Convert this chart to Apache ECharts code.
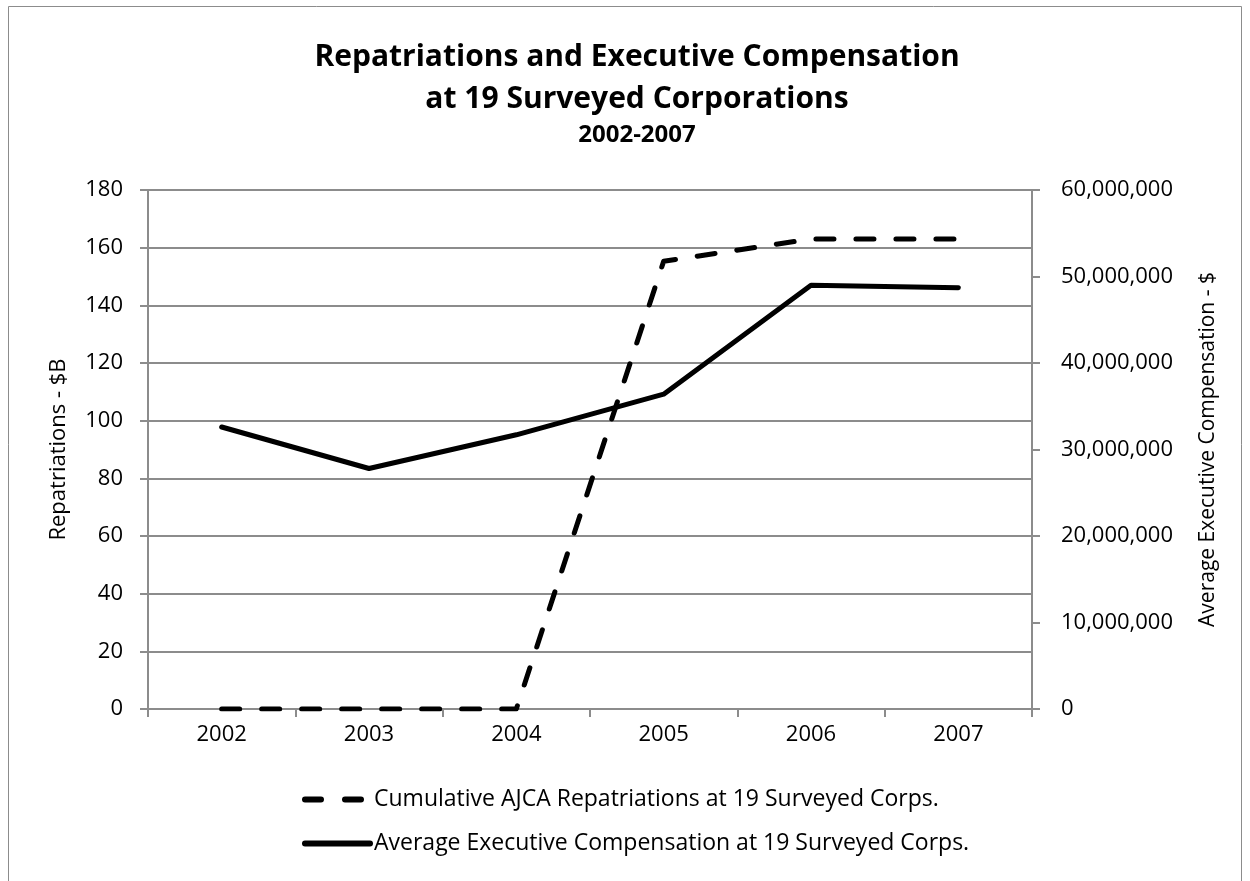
<!DOCTYPE html>
<html>
<head>
<meta charset="utf-8">
<script src="https://cdn.jsdelivr.net/npm/echarts@6/dist/echarts.min.js"></script>
<style>
  html, body { margin: 0; padding: 0; background: #fff; }
  #chart { width: 1250px; height: 881px; }
</style>
</head>
<body>
<div id="chart"></div>
<script>
// 数据
const years = ['2002', '2003', '2004', '2005', '2006', '2007'];
const repatriations = [0, 0, 0, 155.3, 163, 163];
const compensation = [32600000, 27800000, 31700000, 36400000, 49000000, 48700000];
const seriesNames = [
  'Cumulative AJCA Repatriations at 19 Surveyed Corps.',
  'Average Executive Compensation at 19 Surveyed Corps.'
];

const font = '"Open Sans", sans-serif';
const gridColor = '#8c8c8c';

// 图例图标（虚线 / 实线）
const dashIcon = 'path://M3,0h16a3,3 0 0 1 0,6h-16a3,3 0 0 1 0,-6z' +
  'M43,0h16a3,3 0 0 1 0,6h-16a3,3 0 0 1 0,-6zM71,3L71,3';
const solidIcon = 'path://M3,0h65a3,3 0 0 1 0,6h-65a3,3 0 0 1 0,-6z';

const chart = echarts.init(document.getElementById('chart'));

const option = {
  backgroundColor: '#fff',
  animation: false,
  textStyle: { fontFamily: font },
  graphic: [{
    type: 'rect',
    shape: { x: 8.5, y: 6.5, width: 1233, height: 900 },
    style: { fill: 'none', stroke: '#8c8c8c', lineWidth: 1 },
    silent: true
  }],
  title: [{
    text: 'Repatriations and Executive Compensation\nat 19 Surveyed Corporations',
    left: 632,
    textAlign: 'center',
    top: 31,
    textStyle: { fontFamily: font, fontSize: 30, fontWeight: 'bold', color: '#000', lineHeight: 42 }
  }, {
    text: '2002-2007',
    left: 632,
    textAlign: 'center',
    top: 118,
    textStyle: { fontFamily: font, fontSize: 24, fontWeight: 'bold', color: '#000' }
  }],
  grid: { left: 148, right: 218, top: 190, bottom: 172 },
  legend: {
    orient: 'vertical',
    left: 297,
    top: 783,
    itemWidth: 71,
    itemHeight: 6,
    itemGap: 21,
    textStyle: { fontFamily: font, fontSize: 23, color: '#000', padding: [0, 0, 0, -4] },
    data: [
      { name: seriesNames[0], icon: dashIcon },
      { name: seriesNames[1], icon: solidIcon }
    ]
  },
  xAxis: {
    type: 'category',
    data: years,
    boundaryGap: true,
    axisLine: { lineStyle: { color: gridColor, width: 2 } },
    axisTick: { show: true, length: 8, lineStyle: { color: gridColor, width: 2 } },
    axisLabel: { color: '#000', fontSize: 22, margin: 15, fontFamily: font }
  },
  yAxis: [{
    type: 'value',
    min: 0, max: 180, interval: 20,
    name: 'Repatriations - $B',
    nameLocation: 'middle',
    nameGap: 78,
    nameTextStyle: { color: '#000', fontSize: 22, fontFamily: font },
    axisLine: { show: true, lineStyle: { color: gridColor, width: 2 } },
    axisTick: { show: true, length: 8, lineStyle: { color: gridColor, width: 2 } },
    axisLabel: { color: '#000', fontSize: 22, margin: 25, fontFamily: font },
    splitLine: { lineStyle: { color: gridColor, width: 2 } }
  }, {
    type: 'value',
    min: 0, max: 60000000, interval: 10000000,
    position: 'right',
    name: 'Average Executive Compensation - $',
    nameLocation: 'middle',
    nameGap: 166,
    nameRotate: 90,
    nameTextStyle: { color: '#000', fontSize: 21, fontFamily: font },
    axisLine: { show: true, lineStyle: { color: gridColor, width: 2 } },
    axisTick: { show: true, length: 8, lineStyle: { color: gridColor, width: 2 } },
    axisLabel: {
      color: '#000', fontSize: 22, margin: 29, fontFamily: font,
      formatter: function(v) { return v.toLocaleString('en-US'); }
    },
    splitLine: { show: false }
  }],
  series: [{
    name: seriesNames[0],
    type: 'line',
    yAxisIndex: 0,
    data: repatriations,
    symbol: 'none',
    color: '#000',
    lineStyle: { color: '#000', width: 5, type: [18, 22], cap: 'round', join: 'round' }
  }, {
    name: seriesNames[1],
    type: 'line',
    yAxisIndex: 1,
    data: compensation,
    symbol: 'none',
    color: '#000',
    lineStyle: { color: '#000', width: 5, cap: 'round', join: 'round' }
  }]
};

chart.setOption(option);
</script>
</body>
</html>
